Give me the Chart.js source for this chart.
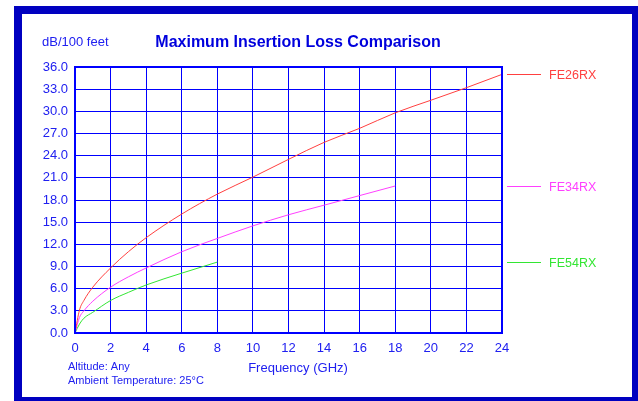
<!DOCTYPE html>
<html>
<head>
<meta charset="utf-8">
<script src="https://cdn.jsdelivr.net/npm/chart.js@4"></script>
<style>
  html, body { margin: 0; padding: 0; background: #fff; }
  #wrap { width: 638px; height: 401px; position: relative; }
</style>
</head>
<body>
<div id="wrap"><canvas id="lossChart" width="638" height="401"></canvas></div>
<script>
// DATA
const seriesNames = ['FE26RX', 'FE34RX', 'FE54RX'];
const freq26 = [0, 0.25, 0.5, 1, 2, 3, 4, 6, 8, 10, 12, 14, 16, 18, 20, 22, 24];
const loss26 = [0, 3.1, 4.4, 6.2, 8.8, 11.0, 12.9, 16.1, 18.8, 21.1, 23.5, 25.8, 27.7, 29.8, 31.5, 33.2, 35.0];
const freq34 = [0, 0.25, 0.5, 1, 2, 3, 4, 6, 8, 10, 12, 14, 16, 18];
const loss34 = [0, 2.1, 3.0, 4.3, 6.2, 7.6, 8.8, 11.0, 12.8, 14.5, 16.0, 17.3, 18.6, 19.9];
const freq54 = [0, 0.25, 0.5, 1, 2, 3, 4, 6, 8];
const loss54 = [0, 1.2, 2.0, 2.8, 4.4, 5.5, 6.5, 8.1, 9.6];
const xTicks = [0, 2, 4, 6, 8, 10, 12, 14, 16, 18, 20, 22, 24];
const yTicks = [0, 3, 6, 9, 12, 15, 18, 21, 24, 27, 30, 33, 36];

const colors = ['#FF4040', '#FF40FF', '#33E633'];
const blue = '#0000FF';
const textBlue = '#2020F0';

function pts(xs, ys) {
    return xs.map((x, i) => ({ x: x, y: ys[i] }));
}

// FRAME + TEXT
const decor = {
    id: 'decor',
    beforeDraw(chart) {
        const c = chart.ctx;
        c.save();
        c.fillStyle = '#fff';
        c.fillRect(0, 0, chart.width, chart.height);
        c.fillStyle = '#0000C0';
        c.fillRect(14, 6, 640, 400);
        c.fillStyle = '#fff';
        c.fillRect(22, 14, 610, 383);
        c.restore();
    },
    afterDraw(chart) {
        const c = chart.ctx;
        const a = chart.chartArea;
        const ys = chart.scales.y;
        c.save();
        c.textBaseline = 'middle';

        c.fillStyle = '#0000DD';
        c.font = 'bold 16px "Liberation Sans", Arial, sans-serif';
        c.textAlign = 'center';
        c.fillText('Maximum Insertion Loss Comparison', 298, 43);

        c.fillStyle = textBlue;
        c.font = '13px "Liberation Sans", Arial, sans-serif';
        c.textAlign = 'left';
        c.fillText('dB/100 feet', 42, 42);

        c.textAlign = 'center';
        c.fillText('Frequency (GHz)', 298, 368);

        c.textAlign = 'left';
        c.font = '11px "Liberation Sans", Arial, sans-serif';
        c.fillText('Altitude: Any', 68, 367);
        c.fillText('Ambient Temperature: 25°C', 68, 381);

        // plot border
        c.strokeStyle = blue;
        c.lineWidth = 2;
        c.strokeRect(a.left, a.top, a.right - a.left, a.bottom - a.top);

        // legend beside each curve end
        const ends = [loss26, loss34, loss54];
        c.font = '12.5px "Liberation Sans", Arial, sans-serif';
        ends.forEach((vals, i) => {
            const yp = Math.round(ys.getPixelForValue(vals[vals.length - 1])) + 0.5;
            c.strokeStyle = colors[i];
            c.lineWidth = 1;
            c.beginPath();
            c.moveTo(507, yp);
            c.lineTo(541, yp);
            c.stroke();
            c.fillStyle = colors[i];
            c.fillText(seriesNames[i], 549, yp + 1);
        });
        c.restore();
    }
};

const ctx = document.getElementById('lossChart');

new Chart(ctx, {
    type: 'line',
    data: {
        datasets: [
            { label: seriesNames[0], data: pts(freq26, loss26), borderColor: colors[0] },
            { label: seriesNames[1], data: pts(freq34, loss34), borderColor: colors[1] },
            { label: seriesNames[2], data: pts(freq54, loss54), borderColor: colors[2] }
        ].map(d => Object.assign(d, {
            borderWidth: 1,
            pointRadius: 0,
            fill: false,
            cubicInterpolationMode: 'monotone'
        }))
    },
    options: {
        responsive: false,
        animation: false,
        layout: { padding: { top: 67, right: 136, bottom: 0, left: 0 } },
        plugins: {
            legend: { display: false },
            tooltip: { enabled: false }
        },
        scales: {
            x: {
                type: 'linear',
                min: 0,
                max: 24,
                afterFit: s => { s.height = 68; },
                afterBuildTicks: s => { s.ticks = xTicks.map(v => ({ value: v })); },
                grid: { color: blue, lineWidth: 1, drawTicks: false },
                border: { display: false },
                ticks: {
                    color: textBlue,
                    padding: 8,
                    font: { family: '"Liberation Sans", Arial, sans-serif', size: 13 }
                }
            },
            y: {
                min: 0,
                max: 36,
                afterFit: s => { s.width = 75; },
                afterBuildTicks: s => { s.ticks = yTicks.map(v => ({ value: v })); },
                grid: { color: blue, lineWidth: 1, drawTicks: false },
                border: { display: false },
                ticks: {
                    color: textBlue,
                    padding: 7,
                    font: { family: '"Liberation Sans", Arial, sans-serif', size: 13 },
                    callback: v => v.toFixed(1)
                }
            }
        }
    },
    plugins: [decor]
});
</script>
</body>
</html>
